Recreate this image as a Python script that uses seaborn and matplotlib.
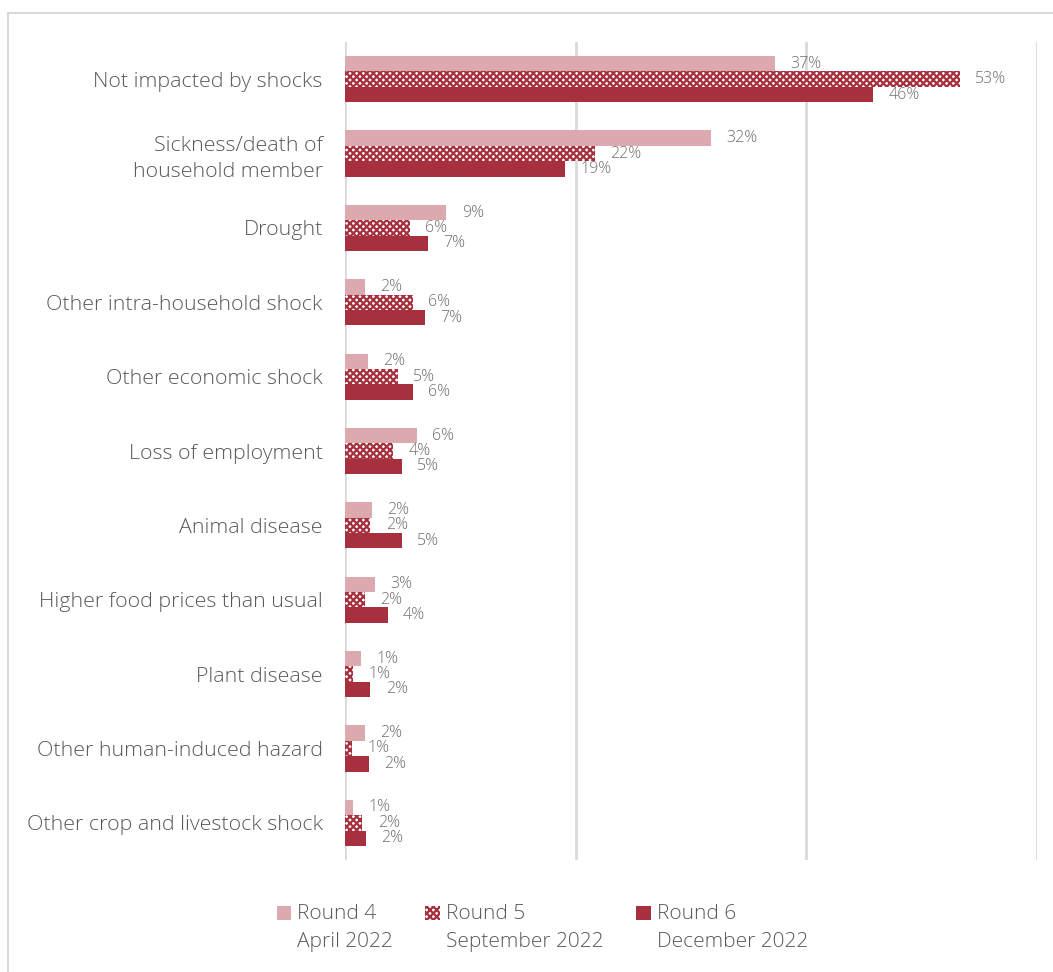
import matplotlib
matplotlib.use("Agg")
import matplotlib.pyplot as plt
import seaborn as sns
import pandas as pd
from matplotlib.patches import Patch
from matplotlib.lines import Line2D

categories = [
    "Not impacted by shocks",
    "Sickness/death of\nhousehold member",
    "Drought",
    "Other intra-household shock",
    "Other economic shock",
    "Loss of employment",
    "Animal disease",
    "Higher food prices than usual",
    "Plant disease",
    "Other human-induced hazard",
    "Other crop and livestock shock",
]
round4 = [37.3, 31.7, 8.8, 1.7, 2.0, 6.2, 2.3, 2.6, 1.4, 1.7, 0.7]
round5 = [53.3, 21.7, 5.6, 5.9, 4.6, 4.2, 2.2, 1.7, 0.7, 0.6, 1.5]
round6 = [45.8, 19.1, 7.2, 6.9, 5.9, 4.9, 4.9, 3.7, 2.2, 2.1, 1.8]
series = ["Round 4\nApril 2022", "Round 5\nSeptember 2022", "Round 6\nDecember 2022"]
xticks = [0, 20, 40, 60]

c4 = "#dca9ae"
c5 = "#a6303e"
c6 = "#a6303e"

rows = []
for s, vals in zip(series, [round4, round5, round6]):
    for c, v in zip(categories, vals):
        rows.append({"cat": c, "series": s, "val": v})
df = pd.DataFrame(rows)

sns.set_theme(style="white")
plt.rcParams["font.family"] = ["Open Sans", "DejaVu Sans"]
plt.rcParams["font.weight"] = "light"
plt.rcParams["hatch.color"] = c5
plt.rcParams["hatch.linewidth"] = 1.6

fig = plt.figure(figsize=(10.53, 9.72), dpi=100)
ax = fig.add_axes([345 / 1053, 1 - 860 / 972, (1037 - 345) / 1053, (860 - 42) / 972])

sns.barplot(data=df, y="cat", x="val", hue="series", orient="h", ax=ax,
            palette=[c4, "white", c6], width=0.62, saturation=1,
            legend=False, order=categories, hue_order=series)

for i, cont in enumerate(ax.containers):
    for p in cont:
        p.set_linewidth(0)
        if i == 1:
            p.set_hatch("xxxxx")
            p.set_edgecolor(c5)
            p.set_facecolor("white")
    labels = [f"{int(v + 0.5)}%" for v in [round4, round5, round6][i]]
    ax.bar_label(cont, labels=labels, padding=11, fontsize=11.5, color="#6e6e6e",
                 fontweight="light")

ax.set_xlim(0, 60)
ax.set_ylim(10.5, -0.5)
ax.set_xticks(xticks)
ax.set_xticklabels([])
ax.tick_params(axis="x", length=0)
ax.tick_params(axis="y", length=0, labelsize=15.4, labelcolor="#595959", pad=16)
for x in xticks:
    ax.axvline(x, color="#d9d9d9", lw=2, zorder=0)
for s in ax.spines.values():
    s.set_visible(False)
ax.set_xlabel("")
ax.set_ylabel("")
for t in ax.get_yticklabels():
    t.set_horizontalalignment("right")
    t.set_multialignment("right")
    t.set_fontweight("light")
    t.set_linespacing(1.4)

# legend
handles = [Patch(facecolor=c4, edgecolor="none"),
           Patch(facecolor="white", edgecolor=c5, hatch="xxxxx", lw=0),
           Patch(facecolor=c6, edgecolor="none")]
leg = fig.legend(handles, series, loc="center", bbox_to_anchor=(0.515, 0.045), ncol=3,
                 frameon=False, fontsize=15, labelcolor="#595959", handlelength=0.7,
                 handleheight=0.7, handletextpad=0.3, columnspacing=1.55)
for t in leg.get_texts():
    t.set_linespacing(1.55)
    t.set_fontweight("light")
for p in leg.get_patches():
    p.set_y(p.get_y() + 11)

# outer frame (top and left)
fig.add_artist(Line2D([8 / 1053, 8 / 1053], [0, 1 - 13 / 972], color="#d9d9d9", lw=1.5,
                      transform=fig.transFigure))
fig.add_artist(Line2D([8 / 1053, 1], [1 - 13 / 972, 1 - 13 / 972], color="#d9d9d9", lw=1.5,
                      transform=fig.transFigure))

fig.savefig("out.png", dpi=100, facecolor="white")
